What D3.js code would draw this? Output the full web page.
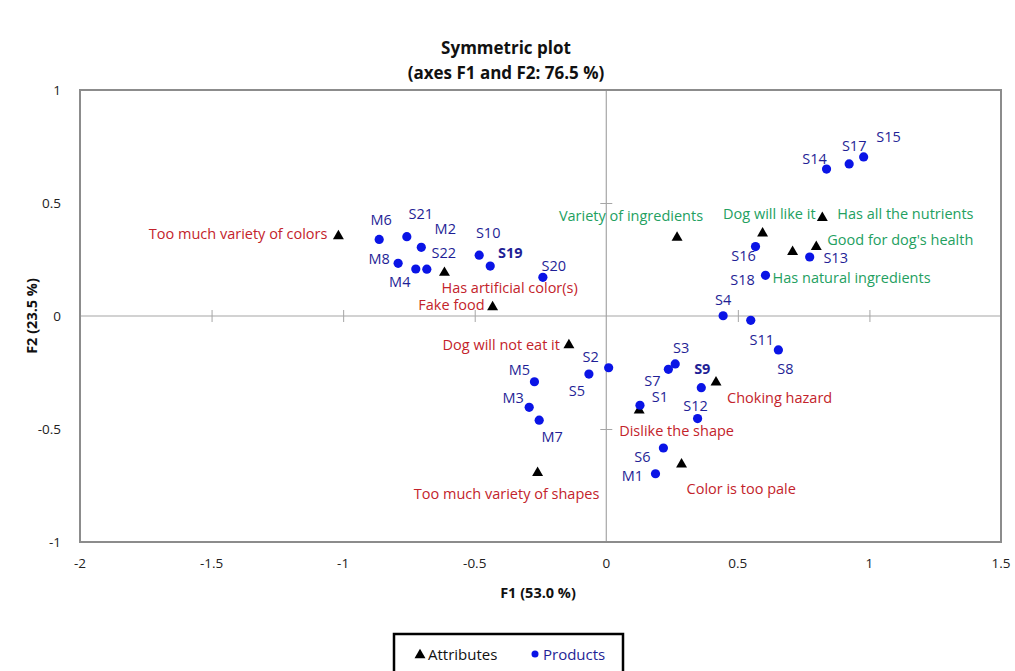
<!DOCTYPE html>
<html>
<head>
<meta charset="utf-8">
<script src="https://cdn.jsdelivr.net/npm/d3@7"></script>
<style>
  body { margin: 0; background: #fff; }
  svg { display: block; font-family: "Open Sans", Lato, sans-serif; }
</style>
</head>
<body>
<svg id="chart" width="1015" height="671"></svg>
<script>
// ---- data ----
const titleLines = ["Symmetric plot", "(axes F1 and F2: 76.5 %)"];
const xAxisTitle = "F1 (53.0 %)";
const yAxisTitle = "F2 (23.5 %)";
const xTicks = [-2, -1.5, -1, -0.5, 0, 0.5, 1, 1.5];
const yTicks = [-1, -0.5, 0, 0.5, 1];

const attrNames = ["Too much variety of colors", "Has artificial color(s)", "Fake food", "Dog will not eat it",
  "Too much variety of shapes", "Dislike the shape", "Choking hazard", "Color is too pale",
  "Variety of ingredients", "Dog will like it", "Has all the nutrients", "Good for dog's health", "Has natural ingredients"];
const attrF1 = [-1.018, -0.615, -0.432, -0.142, -0.261, 0.125, 0.417, 0.286, 0.269, 0.594, 0.821, 0.798, 0.708];
const attrF2 = [0.358, 0.196, 0.044, -0.124, -0.690, -0.413, -0.289, -0.652, 0.351, 0.370, 0.439, 0.311, 0.288];
const attrPositive = [false, false, false, false, false, false, false, false, true, true, true, true, true];

const prodNames = ["M6", "S21", "M2", "M8", "M4", "S22", "S10", "S19", "S20", "S2", "S5", "M5", "M3", "M7",
  "S3", "S7", "S9", "S1", "S12", "S6", "M1", "S4", "S11", "S8", "S16", "S13", "S18", "S14", "S17", "S15"];
const prodF1 = [-0.863, -0.758, -0.703, -0.791, -0.724, -0.682, -0.483, -0.441, -0.241, 0.009, -0.066, -0.273, -0.293, -0.255,
  0.262, 0.236, 0.361, 0.128, 0.347, 0.217, 0.187, 0.444, 0.549, 0.654, 0.567, 0.773, 0.605, 0.837, 0.923, 0.978];
const prodF2 = [0.339, 0.351, 0.304, 0.233, 0.208, 0.207, 0.269, 0.221, 0.171, -0.229, -0.257, -0.291, -0.404, -0.461,
  -0.212, -0.236, -0.317, -0.395, -0.454, -0.584, -0.698, 0.001, -0.019, -0.150, 0.307, 0.261, 0.180, 0.650, 0.673, 0.704];

const legendLabels = ["Attributes", "Products"];

// ---- label placement (pixel offsets from the mark, text anchor) ----
const attrLabelOffsets = [
  [-11, -1, "end"], [-3, 16, "start"], [-8, -1, "end"], [-9, 1, "end"],
  [-31, 22, "middle"], [-20, 22, "start"], [11, 17, "start"], [5, 26, "start"],
  [26, -21, "end"], [53, -18, "end"], [15, -3, "start"], [11, -6, "start"], [-20, 27, "start"]];
const prodLabelOffsets = [
  [2, -19], [14, -23], [24, -18], [-19, -4], [-16, 13], [17, -16], [9, -22], [20, -13], [11, -11],
  [-18, -11], [-12, 17], [-15, -12], [-16, -9], [13, 17],
  [6, -16], [-16, 12], [1, -19], [20, -8], [-2, -13], [-21, 9], [-23, 2],
  [0, -16], [11, 20], [7, 19], [-12, 9], [26, 1], [-23, 5], [-12, -10], [5, -18], [25, -20]];
const boldLabels = ["S19", "S9"];

// ---- styles ----
const C_RED = "#c3232b", C_GREEN = "#23a05f", C_NAVY = "#1f1f96", C_DOT = "#0a14e6";
const LABEL_SIZE = 14.5;

const svg = d3.select("#chart");
const x = d3.scaleLinear().domain([-2, 1.5]).range([80, 1001]);
const y = d3.scaleLinear().domain([-1, 1]).range([542, 90]);

// title
svg.selectAll("text.title").data(titleLines).enter().append("text")
  .attr("x", 506).attr("y", (d, i) => 54 + i * 25)
  .attr("text-anchor", "middle").attr("font-weight", "bold").attr("font-size", 17).attr("fill", "#111")
  .text(d => d);

// zero lines
svg.append("line").attr("x1", x(-2)).attr("x2", x(1.5)).attr("y1", y(0)).attr("y2", y(0))
  .attr("stroke", "#a6a6a6").attr("stroke-width", 1.2);
svg.append("line").attr("x1", x(0)).attr("x2", x(0)).attr("y1", y(1)).attr("y2", y(-1))
  .attr("stroke", "#a6a6a6").attr("stroke-width", 1.2);

// tick marks on the zero lines
const xAx = d3.axisBottom(x).tickValues(xTicks.filter(v => v > -2 && v < 1.5 && v !== 0))
  .tickSize(12).tickFormat("");
const gx = svg.append("g").attr("transform", `translate(0,${y(0) - 6})`).call(xAx);
gx.select(".domain").remove();
gx.selectAll("line").attr("stroke", "#a6a6a6");
const yAx = d3.axisLeft(y).tickValues(yTicks.filter(v => v > -1 && v < 1 && v !== 0))
  .tickSize(12).tickFormat("");
const gy = svg.append("g").attr("transform", `translate(${x(0) + 6},0)`).call(yAx);
gy.select(".domain").remove();
gy.selectAll("line").attr("stroke", "#a6a6a6");

// frame
svg.append("rect").attr("x", x(-2)).attr("y", y(1)).attr("width", x(1.5) - x(-2)).attr("height", y(-1) - y(1))
  .attr("fill", "none").attr("stroke", "#8c8c8c").attr("stroke-width", 2);

// tick labels (hyphen minus like the original)
svg.selectAll("text.xt").data(xTicks).enter().append("text")
  .attr("x", d => x(d)).attr("y", 568).attr("text-anchor", "middle").attr("font-size", 13.5).attr("fill", "#222")
  .text(d => String(d));
svg.selectAll("text.yt").data(yTicks).enter().append("text")
  .attr("x", 61).attr("y", d => y(d)).attr("dy", "0.35em").attr("text-anchor", "end").attr("font-size", 13.5).attr("fill", "#222")
  .text(d => String(d));

// axis titles
svg.append("text").attr("x", 538).attr("y", 598).attr("text-anchor", "middle")
  .attr("font-size", 14.5).attr("font-weight", "bold").attr("fill", "#111").text(xAxisTitle);
svg.append("text").attr("transform", `translate(37,${y(0)}) rotate(-90)`).attr("text-anchor", "middle")
  .attr("font-size", 14.5).attr("font-weight", "bold").attr("fill", "#111").text(yAxisTitle);

const tri = d3.symbol().type(d3.symbolTriangle).size(52);

const attrs = attrNames.map((n, i) => ({ n, fx: attrF1[i], fy: attrF2[i], pos: attrPositive[i], off: attrLabelOffsets[i] }));
const prods = prodNames.map((n, i) => ({ n, fx: prodF1[i], fy: prodF2[i], off: prodLabelOffsets[i] }));

svg.selectAll("path.attr").data(attrs).enter().append("path")
  .attr("transform", d => `translate(${x(d.fx)},${y(d.fy) + 1})`).attr("d", tri).attr("fill", "#000");

svg.selectAll("circle.prod").data(prods).enter().append("circle")
  .attr("cx", d => x(d.fx)).attr("cy", d => y(d.fy)).attr("r", 4.6).attr("fill", C_DOT);

svg.selectAll("text.al").data(attrs).enter().append("text")
  .attr("x", d => x(d.fx) + d.off[0]).attr("y", d => y(d.fy) + d.off[1]).attr("dy", "0.35em")
  .attr("text-anchor", d => d.off[2]).attr("font-size", LABEL_SIZE).attr("fill", d => d.pos ? C_GREEN : C_RED)
  .text(d => d.n);

svg.selectAll("text.pl").data(prods).enter().append("text")
  .attr("x", d => x(d.fx) + d.off[0]).attr("y", d => y(d.fy) + d.off[1]).attr("dy", "0.35em")
  .attr("text-anchor", "middle").attr("font-size", LABEL_SIZE).attr("fill", C_NAVY)
  .attr("font-weight", d => boldLabels.includes(d.n) ? "bold" : "normal")
  .text(d => d.n);

// legend
const lg = svg.append("g");
lg.append("rect").attr("x", 394).attr("y", 634).attr("width", 229).attr("height", 44)
  .attr("fill", "#fff").attr("stroke", "#000").attr("stroke-width", 2.5);
lg.append("path").attr("transform", "translate(420,655)").attr("d", tri).attr("fill", "#000");
lg.append("text").attr("x", 428).attr("y", 655).attr("dy", "0.35em").attr("font-size", 15).attr("fill", "#111").text(legendLabels[0]);
lg.append("circle").attr("cx", 535).attr("cy", 654).attr("r", 3.5).attr("fill", C_DOT);
lg.append("text").attr("x", 543).attr("y", 655).attr("dy", "0.35em").attr("font-size", 15).attr("fill", C_NAVY).text(legendLabels[1]);
</script>
</body>
</html>
